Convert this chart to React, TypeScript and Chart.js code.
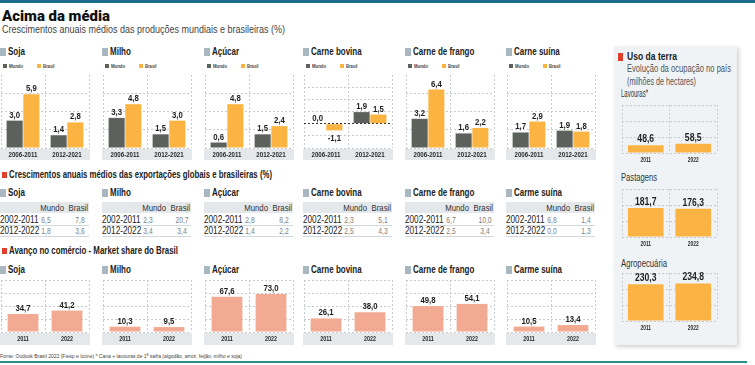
import React, { useEffect, useRef } from 'react';
import { Chart, registerables } from 'chart.js';

Chart.register(...registerables);

// ---------- DATA ----------
const prodTitles = ['Soja', 'Milho', 'Açúcar', 'Carne bovina', 'Carne de frango', 'Carne suína'];
const prodPeriods = ['2006-2011', '2012-2021'];
const prodMundo = [[3.0, 1.4], [3.3, 1.5], [0.6, 1.5], [0.0, 1.9], [3.2, 1.6], [1.7, 1.9]];
const prodBrasil = [[5.9, 2.8], [4.8, 3.0], [4.8, 2.4], [-1.1, 1.5], [6.4, 2.2], [2.9, 1.8]];

const expTitles = ['Soja', 'Milho', 'Açúcar', 'Carne bovina', 'Carne de frango', 'Carme suína'];
const expPeriods = ['2002-2011', '2012-2022'];
const expMundo = [[6.5, 1.8], [2.3, 3.4], [2.8, 1.4], [2.3, 2.5], [6.7, 2.5], [6.8, 0.0]];
const expBrasil = [[7.8, 3.6], [20.7, 3.4], [8.2, 2.2], [5.1, 4.3], [10.0, 3.4], [1.4, 1.3]];

const shareTitles = ['Soja', 'Milho', 'Açúcar', 'Carne bovina', 'Carne de frango', 'Carme suína'];
const shareYears = ['2011', '2022'];
const shareValues = [[34.7, 41.2], [10.3, 9.5], [67.6, 73.0], [26.1, 38.0], [49.8, 54.1], [10.5, 13.4]];

const landTitles = ['Lavouras*', 'Pastagens', 'Agropecuária'];
const landYears = ['2011', '2022'];
const landValues = [[48.6, 58.5], [181.7, 176.3], [230.3, 234.8]];

// ---------- STYLE ----------
const BASE = "'Liberation Sans', Arial, sans-serif";
const TITLE_FONT = "Roboto, 'Liberation Sans', sans-serif";
const C_MUNDO = '#5c615b';
const C_BRASIL = '#fbb441';
const C_SHARE = '#f2ab92';
const C_LAND = '#fbb443';
const C_GRID = '#c6cbcf';
const C_BAND = '#e4e8eb';
const C_SQ = '#a9b8c0';
const C_RED = '#e13d2d';
const PANEL_X = [1, 103, 205, 304, 406, 507];
const NARROW_SX = 0.82;

const fmt = (v: number) => v.toFixed(1).replace('.', ',');

let measureCtx: CanvasRenderingContext2D | null = null;
function textWidth(text: string, font: string) {
  if (!measureCtx) measureCtx = document.createElement('canvas').getContext('2d');
  if (!measureCtx) return 1;
  measureCtx.font = font;
  return measureCtx.measureText(text).width || 1;
}

function drawScaled(ctx: any, text: string, x: number, y: number, sx: number) {
  ctx.save();
  ctx.translate(x, y);
  ctx.scale(sx, 1);
  ctx.fillText(text, 0, 0);
  ctx.restore();
}

const valuePlugin = {
  id: 'valueLabels',
  afterDatasetsDraw(chart: any, _a: any, opts: any) {
    const ctx = chart.ctx;
    ctx.save();
    ctx.font = opts.font;
    ctx.fillStyle = opts.color || '#222';
    ctx.textAlign = 'center';
    chart.data.datasets.forEach((ds: any, di: number) => {
      const meta = chart.getDatasetMeta(di);
      meta.data.forEach((el: any, i: number) => {
        const v = ds.data[i];
        if (v < 0) {
          ctx.textBaseline = 'top';
          drawScaled(ctx, fmt(v), el.x, el.y + 3, opts.sx);
        } else {
          ctx.textBaseline = 'alphabetic';
          drawScaled(ctx, fmt(v), el.x, el.y - (opts.gap ?? 3), opts.sx);
        }
      });
    });
    ctx.restore();
  },
};

const xLabelPlugin = {
  id: 'xLabels',
  afterDraw(chart: any, _a: any, opts: any) {
    const ctx = chart.ctx;
    const xs = chart.scales.x;
    ctx.save();
    ctx.font = opts.font;
    ctx.fillStyle = opts.color;
    ctx.textAlign = 'center';
    ctx.textBaseline = 'middle';
    (chart.data.labels as string[]).forEach((lab, i) => {
      drawScaled(ctx, lab, xs.getPixelForTick(i), chart.chartArea.bottom + opts.offset, opts.sx);
    });
    ctx.restore();
  },
};

const bandPlugin = {
  id: 'band',
  beforeDraw(chart: any, _a: any, opts: any) {
    if (!opts || !opts.color) return;
    const { ctx, chartArea } = chart;
    ctx.save();
    ctx.fillStyle = opts.color;
    ctx.fillRect(chartArea.left - 1, chartArea.bottom + 1, chartArea.right - chartArea.left + 2, opts.height);
    ctx.restore();
  },
};

type DS = { data: number[]; color: string };
type MiniProps = {
  left: number; top: number; width: number; height: number;
  labels: string[]; datasets: DS[];
  min: number; max: number; step: number;
  axisH: number; labelOffset: number; tickFont: number; tickSx: number;
  valueFont: number; valueSx: number;
  band?: boolean; catPct: number; barPct: number; hideTop?: boolean; zeroLine?: boolean;
};

function MiniBar(p: MiniProps) {
  const ref = useRef<HTMLCanvasElement>(null);
  useEffect(() => {
    const chart = new Chart(ref.current as HTMLCanvasElement, {
      type: 'bar',
      data: {
        labels: p.labels,
        datasets: p.datasets.map((d) => ({
          data: d.data,
          backgroundColor: d.color,
          borderWidth: 0,
          categoryPercentage: p.catPct,
          barPercentage: p.barPct,
        })),
      },
      options: {
        animation: false,
        responsive: false,
        maintainAspectRatio: false,
        devicePixelRatio: 1,
        layout: { padding: { left: 1, right: 1, top: 1, bottom: 0 } },
        plugins: {
          legend: { display: false },
          tooltip: { enabled: false },
          valueLabels: { font: `bold ${p.valueFont}px ${BASE}`, color: '#1e1e1e', sx: p.valueSx },
          xLabels: { font: `bold ${p.tickFont}px ${BASE}`, color: '#2a2a2a', sx: p.tickSx, offset: p.labelOffset },
          band: p.band ? { color: C_BAND, height: p.axisH } : {},
        } as any,
        scales: {
          x: {
            grid: { color: C_GRID, drawTicks: false, offset: true },
            border: { display: false, dash: [2, 2] },
            ticks: { display: false },
            afterFit: (s: any) => { s.height = p.axisH; },
          },
          y: {
            min: p.min,
            max: p.max,
            ticks: { display: false, stepSize: p.step },
            grid: {
              drawTicks: false,
              color: (c: any) => {
                const v = c.tick ? c.tick.value : null;
                if (p.zeroLine && v === 0) return '#333';
                if (p.hideTop && v === p.max) return 'rgba(0,0,0,0)';
                return C_GRID;
              },
            },
            border: { display: false, dash: [2, 2] },
            afterFit: (s: any) => { s.width = 0; },
          },
        },
      } as any,
      plugins: [bandPlugin, valuePlugin, xLabelPlugin],
    });
    return () => chart.destroy();
  }, []);
  return (
    <canvas
      ref={ref}
      width={p.width}
      height={p.height}
      style={{ position: 'absolute', left: p.left, top: p.top, width: p.width, height: p.height }}
    />
  );
}

type TProps = {
  x: number; y: number; size: number; bold?: boolean; color?: string; font?: string;
  children: string; w?: number; align?: 'left' | 'right' | 'center'; weight?: number; fit?: number; sx?: number;
};

const T = (props: TProps) => {
  const weight = props.weight ?? (props.bold ? 700 : 400);
  const family = props.font ?? BASE;
  let sx = props.sx ?? NARROW_SX;
  if (props.fit) sx = props.fit / textWidth(props.children, `${weight} ${props.size}px ${family}`);
  const align = props.align ?? 'left';
  const origin = align === 'right' ? 'right center' : align === 'center' ? 'center center' : 'left center';
  return (
    <div
      style={{
        position: 'absolute',
        left: props.x,
        top: props.y,
        transform: `translateY(-50%) scaleX(${sx})`,
        transformOrigin: origin,
        fontSize: props.size,
        fontWeight: weight,
        color: props.color ?? '#222',
        fontFamily: family,
        whiteSpace: 'nowrap',
        lineHeight: 1,
        width: props.w,
        textAlign: align,
      }}
    >
      {props.children}
    </div>
  );
};

const Sq = (props: { x: number; y: number; w: number; h: number; c: string }) => (
  <div style={{ position: 'absolute', left: props.x, top: props.y, width: props.w, height: props.h, background: props.c }} />
);

export default function App() {
  return (
    <div style={{ position: 'absolute', left: 0, top: 0, width: 755, height: 365, background: '#fff', overflow: 'hidden', fontFamily: BASE }}>
      <div style={{ position: 'absolute', left: 0, top: 0, width: 755, height: 3, background: '#1e6c8c' }} />
      <T x={2} y={15.5} size={15} weight={900} font={TITLE_FONT} color="#111" fit={108}>Acima da média</T>
      <T x={2} y={29} size={11} color="#444" fit={283}>Crescimentos anuais médios das produções mundiais e brasileiras (%)</T>

      {/* Row 1: production growth */}
      {prodTitles.map((t, i) => {
        const L = PANEL_X[i];
        return (
          <React.Fragment key={'p' + i}>
            <Sq x={L - 1} y={48} w={6} h={8} c={C_SQ} />
            <T x={L + 7} y={52} size={10} bold sx={0.8}>{t}</T>
            <Sq x={L + 2} y={64} w={4} h={4} c={C_MUNDO} />
            <T x={L + 8} y={66} size={6} bold color="#444" fit={14}>Mundo</T>
            <Sq x={L + 36} y={64} w={4} h={4} c={C_BRASIL} />
            <T x={L + 42} y={66} size={6} bold color="#444" fit={11.5}>Brasil</T>
            <MiniBar
              left={L - 1} top={74} width={90} height={86}
              labels={prodPeriods}
              datasets={[{ data: prodMundo[i], color: C_MUNDO }, { data: prodBrasil[i], color: C_BRASIL }]}
              min={i === 3 ? -4 : 0} max={8} step={2}
              axisH={12} labelOffset={7} tickFont={7.5} tickSx={0.82}
              valueFont={9.5} valueSx={0.82}
              band catPct={0.76} barPct={0.96} hideTop zeroLine={i === 3}
            />
          </React.Fragment>
        );
      })}

      {/* Row 2: exports table */}
      <Sq x={2} y={172} w={5} h={6} c={C_RED} />
      <T x={9} y={175} size={10} bold fit={263}>Crescimentos anuais médios das exportações globais e brasileiras (%)</T>
      {expTitles.map((t, i) => {
        const L = PANEL_X[i];
        return (
          <React.Fragment key={'e' + i}>
            <Sq x={L - 1} y={189} w={6} h={8} c={C_SQ} />
            <T x={L + 7} y={193} size={10} bold sx={0.8}>{t}</T>
            <div style={{ position: 'absolute', left: L - 1, top: 202, width: 89, height: 11, background: C_BAND }} />
            <T x={L + 23} y={208} size={9.5} w={40} align="right" color="#333">Mundo</T>
            <T x={L + 47} y={208} size={9.5} w={40} align="right" color="#333">Brasil</T>
            {expPeriods.map((per, r) => (
              <React.Fragment key={r}>
                <T x={L - 1} y={220 + r * 10.5} size={10} color="#222">{per}</T>
                <T x={L + 33} y={220 + r * 10.5} size={9} w={24} align="center" color="#808080" sx={0.75}>{fmt(expMundo[i][r])}</T>
                <T x={L + 67} y={220 + r * 10.5} size={9} w={24} align="center" color="#808080" sx={0.75}>{fmt(expBrasil[i][r])}</T>
                <div style={{ position: 'absolute', left: L - 1, top: 225 + r * 10.5, width: 89, height: 1, background: '#d3d8dc' }} />
              </React.Fragment>
            ))}
          </React.Fragment>
        );
      })}

      {/* Row 3: market share */}
      <Sq x={2} y={248} w={5} h={6} c={C_RED} />
      <T x={9} y={251} size={10} bold fit={169}>Avanço no comércio - Market share do Brasil</T>
      {shareTitles.map((t, i) => {
        const L = PANEL_X[i];
        return (
          <React.Fragment key={'s' + i}>
            <Sq x={L - 1} y={266} w={6} h={8} c={C_SQ} />
            <T x={L + 7} y={270} size={10} bold sx={0.8}>{t}</T>
            <MiniBar
              left={L - 1} top={279} width={90} height={66}
              labels={shareYears}
              datasets={[{ data: shareValues[i], color: C_SHARE }]}
              min={0} max={100} step={25}
              axisH={13} labelOffset={7} tickFont={7.5} tickSx={0.72}
              valueFont={9.5} valueSx={0.82}
              band catPct={0.7} barPct={1}
            />
          </React.Fragment>
        );
      })}

      {/* Right panel: land use */}
      <div style={{ position: 'absolute', left: 614, top: 46, width: 123, height: 299, background: '#f0f3f6', boxShadow: '2px 2px 4px rgba(0,0,0,0.18)' }} />
      <Sq x={618} y={53} w={5} h={8} c={C_RED} />
      <T x={627} y={57} size={10} bold fit={50}>Uso da terra</T>
      <T x={627} y={69} size={10} color="#555" fit={104}>Evolução da ocupação no país</T>
      <T x={627} y={82} size={10} color="#555" fit={69}>(milhões de hectares)</T>
      {landTitles.map((t, k) => {
        const tops = [104, 188, 272];
        const titleY = [94, 178, 264];
        const fits = [27, 36, 46];
        return (
          <React.Fragment key={'l' + k}>
            <T x={621} y={titleY[k]} size={10} color="#333" fit={fits[k]}>{t}</T>
            <MiniBar
              left={621} top={tops[k]} width={97} height={61}
              labels={landYears}
              datasets={[{ data: landValues[k], color: C_LAND }]}
              min={0} max={300} step={100}
              axisH={12} labelOffset={7} tickFont={7} tickSx={0.7}
              valueFont={10.5} valueSx={0.82}
              catPct={0.75} barPct={1}
            />
          </React.Fragment>
        );
      })}

      <T x={0} y={357} size={5.5} color="#444" fit={242}>Fonte: Outlook Brasil 2022 (Fiesp e Icone) * Cana + lavouras de 1ª safra (algodão, arroz, feijão, milho e soja)</T>
      <div style={{ position: 'absolute', left: 0, top: 361, width: 747, height: 2, background: '#27908d' }} />
    </div>
  );
}
